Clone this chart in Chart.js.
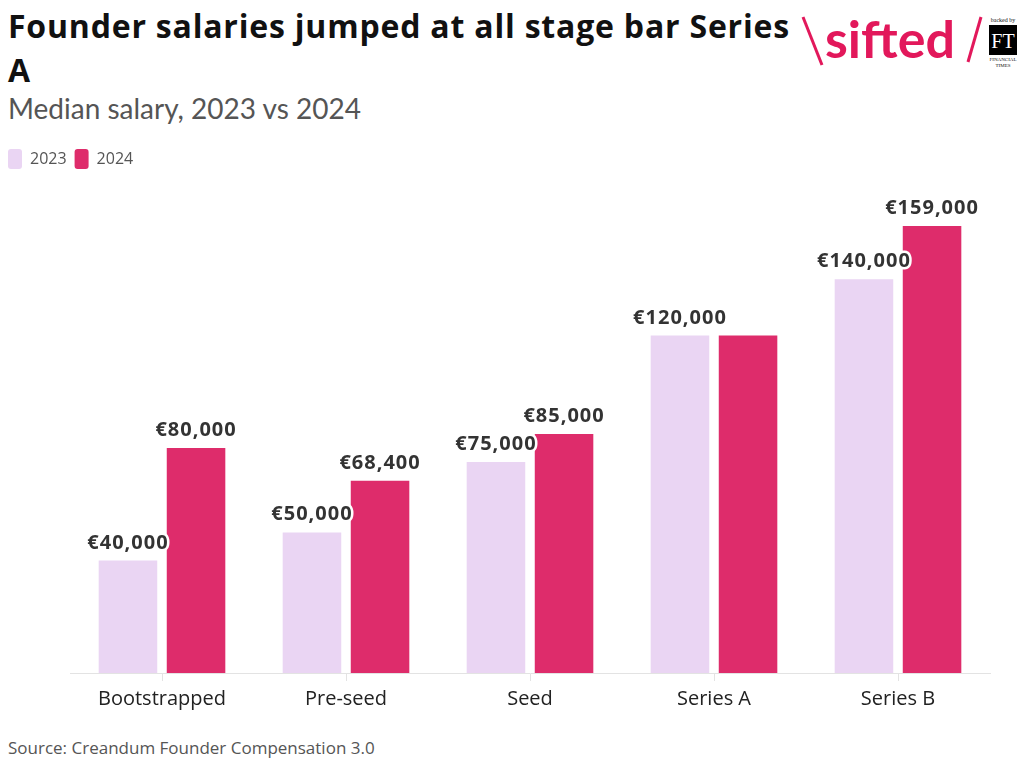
<!DOCTYPE html>
<html>
<head>
<meta charset="utf-8">
<script src="https://cdn.jsdelivr.net/npm/chart.js@4"></script>
<style>
  html, body { margin:0; padding:0; background:#fff; width:1024px; height:766px; overflow:hidden; font-family: "Open Sans", "Noto Sans", sans-serif; }
  #title { position:absolute; left:8px; top:4px; width:800px; font-size:32px; font-weight:700; color:#111; line-height:44px; letter-spacing:0.8px; }
  #subtitle { position:absolute; left:8px; top:91px; font-family: Lato, sans-serif; font-size:28px; color:#555; }
  #source { position:absolute; left:8px; top:736px; font-size:17px; color:#555; }
  #wrap { position:absolute; left:0; top:141px; width:1024px; height:576px; }
  #logo { position:absolute; left:795px; top:8px; width:229px; height:70px; }
</style>
</head>
<body>
<div id="title">Founder salaries jumped at all stage bar Series<br>A</div>
<div id="subtitle">Median salary, 2023 vs 2024</div>
<svg id="logo" viewBox="0 0 229 70" width="229" height="70">
  <line x1="8" y1="9" x2="27" y2="57" stroke="#e2185b" stroke-width="3"/>
  <text x="30" y="50" font-family="Lato, sans-serif" font-weight="700" font-size="52" fill="#e2185b">sifted</text>
  <line x1="173" y1="54" x2="186" y2="9" stroke="#e2185b" stroke-width="3"/>
  <text x="208" y="14" font-family="'Liberation Serif', serif" font-size="6" fill="#111" text-anchor="middle">backed by</text>
  <rect x="194" y="17" width="28" height="30" fill="#000"/>
  <text x="208" y="40" font-family="'Liberation Serif', serif" font-size="20" fill="#fff" text-anchor="middle">FT</text>
  <text x="208" y="53" font-family="'Liberation Serif', serif" font-size="5" fill="#111" text-anchor="middle">FINANCIAL</text>
  <text x="208" y="59" font-family="'Liberation Serif', serif" font-size="5" fill="#111" text-anchor="middle">TIMES</text>
</svg>
<div id="wrap"><canvas id="c"></canvas></div>
<div id="source">Source: Creandum Founder Compensation 3.0</div>
<script>
const categories = ["Bootstrapped", "Pre-seed", "Seed", "Series A", "Series B"];
const seriesNames = ["2023", "2024"];
const values2023 = [40000, 50000, 75000, 120000, 140000];
const values2024 = [80000, 68400, 85000, 120000, 159000];
const colors = ["#ead5f3", "#de2c6b"];

const fmt = v => "\u20ac" + v.toLocaleString("en-US");

const labelPlugin = {
  id: "barLabels",
  afterDatasetsDraw(chart) {
    const ctx = chart.ctx;
    ctx.save();
    ctx.font = "700 20px 'Open Sans', sans-serif";
    try { ctx.letterSpacing = "1px"; } catch (e) {}
    ctx.textAlign = "center";
    ctx.textBaseline = "alphabetic";
    ctx.lineJoin = "round";
    chart.data.datasets.forEach((ds, di) => {
      const meta = chart.getDatasetMeta(di);
      meta.data.forEach((bar, i) => {
        // skip a label that repeats the other series' value in the same category
        if (di === 1 && chart.data.datasets[0].data[i] === ds.data[i]) return;
        const txt = fmt(ds.data[i]);
        const y = bar.y - 12;
        ctx.strokeStyle = "#fff";
        ctx.lineWidth = 5;
        ctx.strokeText(txt, bar.x, y);
        ctx.fillStyle = "#333";
        ctx.fillText(txt, bar.x, y);
      });
    });
    ctx.restore();
  }
};

const legendMargin = {
  id: "legendMargin",
  beforeInit(chart) {
    const origFit = chart.legend.fit;
    chart.legend.fit = function () {
      origFit.call(this);
      this.height += 16;
    };
  }
};

new Chart(document.getElementById("c"), {
  type: "bar",
  data: {
    labels: categories,
    datasets: [
      { label: seriesNames[0], data: values2023, backgroundColor: colors[0], borderWidth: 0 },
      { label: seriesNames[1], data: values2024, backgroundColor: colors[1], borderWidth: 0 }
    ]
  },
  options: {
    responsive: true,
    maintainAspectRatio: false,
    animation: false,
    datasets: { bar: { categoryPercentage: 0.74, barPercentage: 0.86 } },
    layout: { padding: { left: 0, right: 34, top: 0, bottom: 0 } },
    plugins: {
      legend: {
        position: "top",
        align: "start",
        labels: {
          boxWidth: 14, boxHeight: 20, useBorderRadius: true, borderRadius: 3,
          color: "#555", font: { family: "'Open Sans', sans-serif", size: 16 }, padding: 8
        }
      },
      tooltip: { enabled: false }
    },
    scales: {
      x: {
        grid: { display: true, drawOnChartArea: false, drawTicks: true, tickLength: 8, color: "#e3e3e3", offset: false },
        border: { display: true, color: "#e3e3e3" },
        ticks: { color: "#222", font: { family: "'Open Sans', sans-serif", size: 20 }, padding: 6 }
      },
      y: {
        display: true, min: 0, max: 170000,
        grid: { display: false }, border: { display: false },
        ticks: { display: false },
        afterFit(scale) { scale.width = 70; }
      }
    }
  },
  plugins: [labelPlugin, legendMargin]
});
</script>
</body>
</html>
